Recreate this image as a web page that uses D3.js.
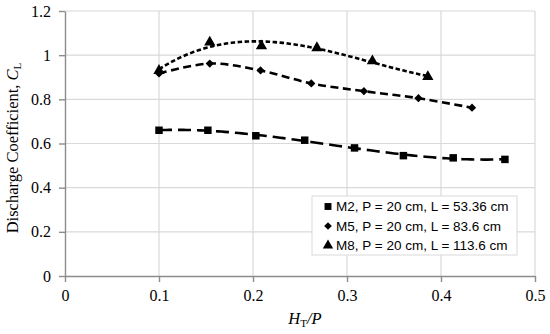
<!DOCTYPE html>
<html>
<head>
<meta charset="utf-8">
<script src="https://cdn.jsdelivr.net/npm/d3@7"></script>
<style>
  body { margin: 0; background: #fff; }
  svg { display: block; }
</style>
</head>
<body>
<div id="chart"></div>
<script>
'use strict'

const m2X = [0.1, 0.152, 0.203, 0.255, 0.308, 0.360, 0.413, 0.468]
const m2Y = [0.66, 0.66, 0.635, 0.615, 0.58, 0.545, 0.535, 0.528]
const m5X = [0.1, 0.154, 0.208, 0.262, 0.318, 0.376, 0.433]
const m5Y = [0.917, 0.962, 0.931, 0.872, 0.837, 0.805, 0.762]
const m8X = [0.1, 0.154, 0.209, 0.268, 0.327, 0.386]
const m8Y = [0.93, 1.058, 1.041, 1.033, 0.974, 0.902]
const seriesNames = [
  'M2, P = 20 cm, L = 53.36 cm',
  'M5, P = 20 cm, L = 83.6 cm',
  'M8, P = 20 cm, L = 113.6 cm'
]
const xTicks = [0, 0.1, 0.2, 0.3, 0.4, 0.5]
const yTicks = [0, 0.2, 0.4, 0.6, 0.8, 1, 1.2]

const width = 550
const height = 334
const margin = { top: 11, right: 15, bottom: 58, left: 65 }
const serif = '"Liberation Serif", "Times New Roman", serif'

// least squares polynomial, like a spreadsheet trendline
const polyfit = function(xs, ys, order) {
  const n = order + 1
  const a = []
  for (let i = 0; i < n; i++) {
    a.push([])
    for (let j = 0; j <= n; j++) a[i].push(0)
  }
  xs.forEach((x, k) => {
    for (let i = 0; i < n; i++) {
      for (let j = 0; j < n; j++) a[i][j] += Math.pow(x, i + j)
      a[i][n] += ys[k] * Math.pow(x, i)
    }
  })
  for (let i = 0; i < n; i++) {
    let p = i
    for (let r = i + 1; r < n; r++) if (Math.abs(a[r][i]) > Math.abs(a[p][i])) p = r
    const t = a[i]; a[i] = a[p]; a[p] = t
    for (let r = 0; r < n; r++) {
      if (r === i) continue
      const f = a[r][i] / a[i][i]
      for (let c = i; c <= n; c++) a[r][c] -= f * a[i][c]
    }
  }
  const coef = a.map((row, i) => row[n] / row[i])
  return x => coef.reduce((s, c, i) => s + c * Math.pow(x, i), 0)
}

const series = [
  { name: seriesNames[0], xs: m2X, ys: m2Y, symbol: d3.symbolSquare, size: 56, rot: 0, dash: '13,6', fit: 3 },
  { name: seriesNames[1], xs: m5X, ys: m5Y, symbol: d3.symbolSquare, size: 34, rot: 45, dash: '8,4.5', fit: 0 },
  { name: seriesNames[2], xs: m8X, ys: m8Y, symbol: d3.symbolTriangle, size: 55, rot: 0, dash: '4.5,2.5', fit: 3 }
]

const svg = d3.select('#chart')
  .append('svg')
  .attr('width', width)
  .attr('height', height)

const x = d3.scaleLinear().domain([0, 0.5]).range([margin.left, width - margin.right])
const y = d3.scaleLinear().domain([0, 1.2]).range([height - margin.bottom, margin.top])

// grid
svg.append('g')
  .selectAll('line')
  .data(yTicks.slice(1))
  .enter()
  .append('line')
  .attr('x1', x(0)).attr('x2', x(0.5))
  .attr('y1', d => y(d)).attr('y2', d => y(d))
  .attr('stroke', '#d9d9d9').attr('stroke-width', 1.2)

svg.append('g')
  .selectAll('line')
  .data(xTicks.slice(1))
  .enter()
  .append('line')
  .attr('x1', d => x(d)).attr('x2', d => x(d))
  .attr('y1', y(0)).attr('y2', y(1.2))
  .attr('stroke', '#d9d9d9').attr('stroke-width', 1.2)

// axes
const xAxis = svg.append('g')
  .attr('transform', 'translate(0,' + y(0) + ')')
  .call(d3.axisBottom(x).tickValues(xTicks).tickFormat(d => d).tickSize(6).tickSizeOuter(0))
const yAxis = svg.append('g')
  .attr('transform', 'translate(' + x(0) + ',0)')
  .call(d3.axisLeft(y).tickValues(yTicks).tickFormat(d => d).tickSize(6).tickSizeOuter(0))

;[xAxis, yAxis].forEach(g => {
  g.attr('font-family', serif).attr('font-size', 16)
  g.selectAll('path, line').attr('stroke', '#8c8c8c').attr('stroke-width', 1.4)
  g.selectAll('text')
    .attr('fill', '#000')
    .style('font-family', serif)
    .style('font-size', '16px')
})
xAxis.selectAll('text').attr('y', 14).attr('dy', '0.71em')
yAxis.selectAll('text').attr('x', -14)

// trendlines
const line = d3.line().x(d => x(d[0])).y(d => y(d[1]))
series.forEach(s => {
  let pts = s.xs.map((xv, i) => [xv, s.ys[i]])
  let gen = line
  if (s.fit) {
    const f = polyfit(s.xs, s.ys, s.fit)
    const lo = d3.min(s.xs)
    const hi = d3.max(s.xs)
    pts = d3.range(0, 101).map(i => {
      const xv = lo + (hi - lo) * i / 100
      return [xv, f(xv)]
    })
  } else {
    gen = d3.line().x(d => x(d[0])).y(d => y(d[1])).curve(d3.curveCatmullRom.alpha(0.5))
  }
  svg.append('path')
    .attr('d', gen(pts))
    .attr('fill', 'none')
    .attr('stroke', '#000')
    .attr('stroke-width', 2.6)
    .attr('stroke-dasharray', s.dash)
})

// markers
series.forEach(s => {
  svg.append('g')
    .selectAll('path')
    .data(s.xs.map((xv, i) => [xv, s.ys[i]]))
    .enter()
    .append('path')
    .attr('transform', d => 'translate(' + x(d[0]) + ',' + y(d[1]) + ') rotate(' + s.rot + ')')
    .attr('d', d3.symbol().type(s.symbol).size(s.size))
    .attr('fill', '#000')
})

// axis titles
svg.append('text')
  .attr('transform', 'translate(18,148) rotate(-90)')
  .attr('text-anchor', 'middle')
  .attr('font-family', serif)
  .attr('font-size', 16.5)
  .html('Discharge Coefficient, <tspan font-style="italic">C</tspan><tspan font-size="11" dy="3">L</tspan>')

svg.append('text')
  .attr('x', 305)
  .attr('y', 324)
  .attr('text-anchor', 'middle')
  .attr('font-family', serif)
  .attr('font-size', 16.5)
  .attr('font-style', 'italic')
  .html('H<tspan font-size="11" font-style="normal" dy="3">T</tspan><tspan dy="-3">/P</tspan>')

// legend
const lg = svg.append('g').attr('transform', 'translate(312,196)')
lg.append('rect')
  .attr('width', 205).attr('height', 59)
  .attr('fill', '#fff').attr('stroke', '#d9d9d9')
series.forEach((s, i) => {
  lg.append('path')
    .attr('transform', 'translate(16,' + (10.5 + i * 19.5) + ') rotate(' + s.rot + ')')
    .attr('d', d3.symbol().type(s.symbol).size(s.size * 0.85))
    .attr('fill', '#000')
  lg.append('text')
    .attr('x', 24)
    .attr('y', 15 + i * 19.5)
    .attr('font-family', '"Liberation Sans", Arial, sans-serif')
    .attr('font-size', 13.5)
    .text(s.name)
})
</script>
</body>
</html>
